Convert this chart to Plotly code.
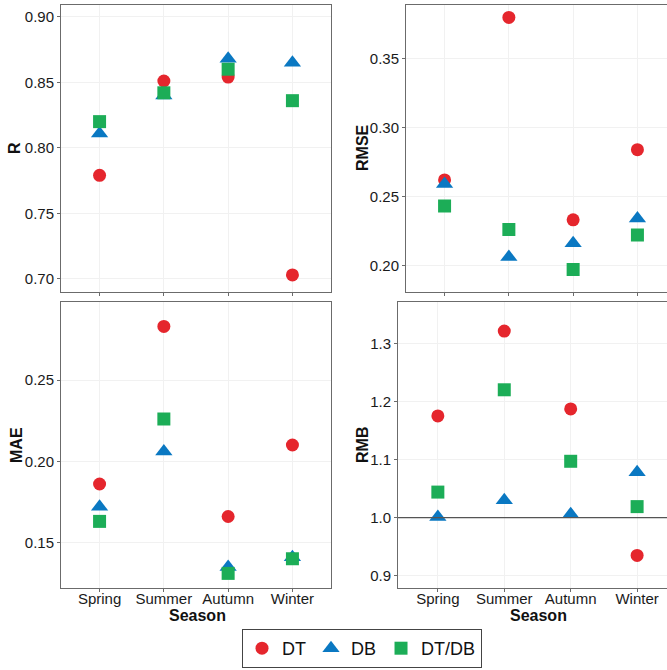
import plotly.graph_objects as go

seasons = ["Spring", "Summer", "Autumn", "Winter"]
schemes = ["DT", "DB", "DT/DB"]

r_vals = {
    "DT": [0.779, 0.851, 0.854, 0.703],
    "DB": [0.811, 0.840, 0.868, 0.865],
    "DT/DB": [0.820, 0.842, 0.860, 0.836],
}
rmse_vals = {
    "DT": [0.262, 0.380, 0.233, 0.284],
    "DB": [0.259, 0.206, 0.216, 0.234],
    "DT/DB": [0.243, 0.226, 0.197, 0.222],
}
mae_vals = {
    "DT": [0.186, 0.283, 0.166, 0.210],
    "DB": [0.172, 0.206, 0.135, 0.141],
    "DT/DB": [0.163, 0.226, 0.131, 0.140],
}
rmb_vals = {
    "DT": [1.175, 1.321, 1.187, 0.935],
    "DB": [1.001, 1.030, 1.006, 1.078],
    "DT/DB": [1.044, 1.220, 1.097, 1.019],
}

r_ticks = [0.70, 0.75, 0.80, 0.85, 0.90]
rmse_ticks = [0.20, 0.25, 0.30, 0.35]
mae_ticks = [0.15, 0.20, 0.25]
rmb_ticks = [0.9, 1.0, 1.1, 1.2, 1.3]

colors = {"DT": "#E5262D", "DB": "#0A78C2", "DT/DB": "#1CAD57"}
symbols = {"DT": "circle", "DB": "triangle-up", "DT/DB": "square"}
sizes = {"DT": 13, "DB": 15, "DT/DB": 13}

W, H = 667, 670
FONT = "Liberation Sans, Arial, sans-serif"
BORDER = "#6b6b6b"
GRID = "#f1f1f1"


def px_x(a, b):
    return [a / W, b / W]


def px_y(top, bottom):
    return [1 - bottom / H, 1 - top / H]


panels = [
    # (data, ticks, tick format, yrange, xdomain px, ydomain px, xrange end, show x labels, right clipped)
    (r_vals, r_ticks, ".2f", [0.690, 0.909], (61, 331), (5, 292), 3.6, False, False),
    (rmse_vals, rmse_ticks, ".2f", [0.181, 0.389], (406, 667), (5, 291.5), 3.46, False, True),
    (mae_vals, mae_ticks, ".2f", [0.122, 0.298], (61, 331), (302, 588), 3.6, True, False),
    (rmb_vals, rmb_ticks, ".1f", [0.879, 1.371], (398, 667), (302, 588), 3.45, True, True),
]

fig = go.Figure()
layout = {}

for i, (vals, ticks, fmt, yr, xd, yd, xend, showx, clipped) in enumerate(panels):
    n = "" if i == 0 else str(i + 1)
    for s in schemes:
        fig.add_trace(go.Scatter(
            x=seasons, y=vals[s], mode="markers",
            name=s, legendgroup=s, showlegend=(i == 0),
            marker=dict(symbol=symbols[s], size=sizes[s], color=colors[s],
                        line=dict(width=0)),
            xaxis="x" + n, yaxis="y" + n,
        ))
    layout["xaxis" + n] = dict(
        domain=px_x(*xd), anchor="y" + n, type="category",
        categoryorder="array", categoryarray=seasons,
        range=[-0.6, xend], showgrid=True, gridcolor=GRID, gridwidth=1,
        showline=True, linecolor=BORDER, linewidth=1, mirror=True,
        ticks="outside", ticklen=3, tickcolor=BORDER,
        showticklabels=showx, zeroline=False, ticklabelstandoff=-6,
        tickfont=dict(family=FONT, size=15, color="#1a1a1a"),
    )
    layout["yaxis" + n] = dict(
        domain=px_y(*yd), anchor="x" + n, range=yr,
        tickvals=ticks, ticktext=[format(t, fmt) for t in ticks],
        showgrid=True, gridcolor=GRID, gridwidth=1,
        showline=True, linecolor=BORDER, linewidth=1,
        mirror=(not clipped),
        ticks="outside", ticklen=3, tickcolor=BORDER, zeroline=False,
        tickfont=dict(family=FONT, size=15, color="#1a1a1a"),
    )

# reference line for RMB = 1
shapes = [dict(type="line", xref="x4 domain", yref="y4", x0=0, x1=1, y0=1.0, y1=1.0,
               line=dict(color="#555555", width=1.2), layer="above")]

annotations = []
titles = [("R", 14, 148), ("RMSE", 362, 148), ("MAE", 16, 445), ("RMB", 362, 445)]
for text, xp, yp in titles:
    annotations.append(dict(
        text="<b>%s</b>" % text, x=xp / W, y=1 - yp / H, xref="paper", yref="paper",
        showarrow=False, textangle=-90, xanchor="center", yanchor="middle",
        font=dict(family=FONT, size=16, color="#111111"),
    ))
for xp in (197, 538):
    annotations.append(dict(
        text="<b>Season</b>", x=xp / W, y=1 - 615 / H, xref="paper", yref="paper",
        showarrow=False, xanchor="center", yanchor="middle",
        font=dict(family=FONT, size=16, color="#111111"),
    ))

fig.update_layout(
    **layout,
    width=W, height=H, margin=dict(l=0, r=0, t=0, b=0),
    paper_bgcolor="white", plot_bgcolor="white",
    shapes=shapes, annotations=annotations,
    legend=dict(
        orientation="h", x=362 / W, xanchor="center", y=1 - 668 / H, yanchor="bottom",
        bordercolor="#444444", borderwidth=1, bgcolor="white",
        font=dict(family=FONT, size=18, color="#111111"),
        itemsizing="trace", tracegroupgap=0,
    ),
)

fig.write_html("out.html")
